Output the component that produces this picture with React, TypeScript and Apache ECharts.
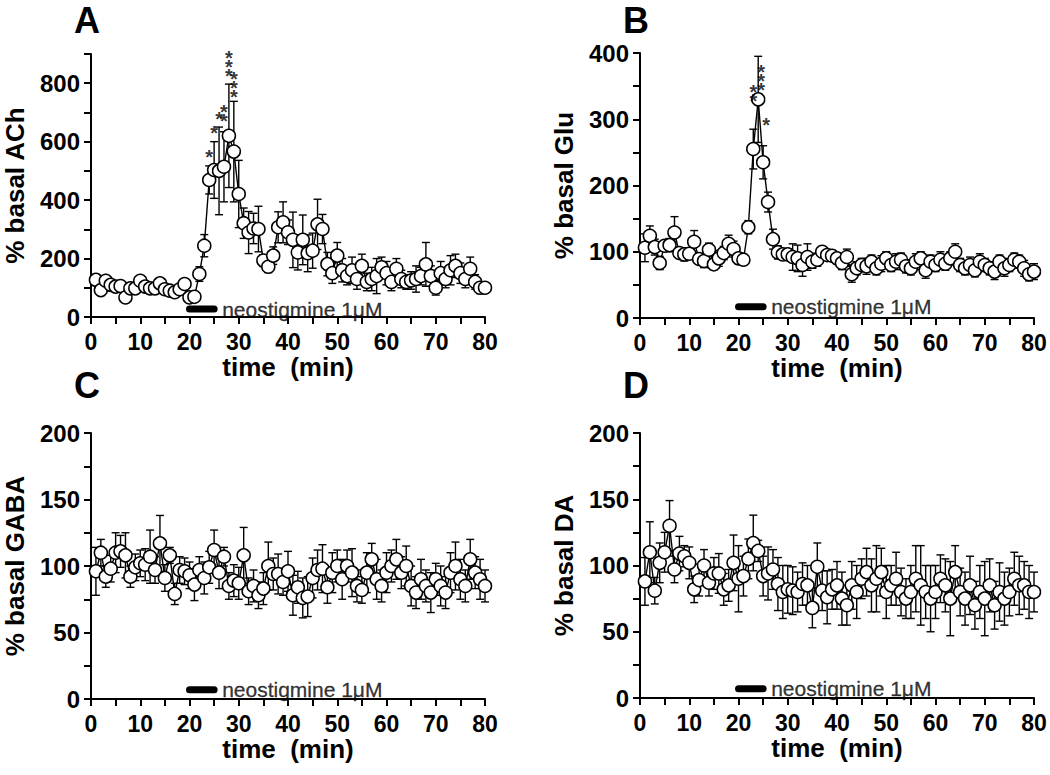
import React, { useEffect, useRef } from 'react';
import * as echarts from 'echarts';

const FONT = 'Liberation Sans, Arial, Helvetica, sans-serif';

// sampling times (min)
const times = [
  1, 2, 3, 4, 5, 6, 7, 8, 9, 10, 11, 12, 13, 14, 15, 16, 17, 18, 19, 20,
  21, 22, 23, 24, 25, 26, 27, 28, 29, 30, 31, 32, 33, 34, 35, 36, 37, 38, 39, 40,
  41, 42, 43, 44, 45, 46, 47, 48, 49, 50, 51, 52, 53, 54, 55, 56, 57, 58, 59, 60,
  61, 62, 63, 64, 65, 66, 67, 68, 69, 70, 71, 72, 73, 74, 75, 76, 77, 78, 79, 80,
];

// Panel A: % basal ACh
const achMean = [
  127, 92, 124, 110, 104, 106, 67, 98, 98, 124, 104, 98, 98, 115, 95, 90, 85, 95, 113, 67,
  69, 147, 244, 469, 503, 500, 514, 620, 566, 421, 321, 289, 303, 301, 193, 172, 210, 307, 324, 290,
  264, 221, 264, 218, 227, 317, 301, 181, 150, 210, 160, 140, 160, 130, 175, 120, 130, 140, 170, 150,
  120, 165, 130, 120, 125, 130, 140, 180, 140, 100, 150, 130, 160, 175, 150, 130, 165, 120, 100, 100,
];
const achSem = [
  10, 12, 8, 10, 12, 10, 12, 10, 10, 15, 10, 8, 10, 12, 10, 15, 10, 10, 15, 10,
  15, 25, 38, 48, 97, 150, 120, 177, 172, 115, 52, 72, 52, 78, 20, 20, 30, 53, 70, 42,
  95, 60, 85, 63, 60, 86, 50, 40, 35, 45, 40, 30, 45, 35, 40, 30, 40, 60, 35, 40,
  30, 35, 30, 25, 30, 45, 30, 75, 35, 25, 40, 30, 50, 40, 35, 30, 40, 25, 20, 15,
];

// Panel B: % basal Glu
const gluMean = [
  106, 124, 107, 83, 109, 110, 129, 98, 96, 97, 115, 89, 86, 103, 81, 90, 98, 112, 104, 90,
  88, 137, 255, 330, 235, 175, 119, 99, 96, 96, 92, 90, 80, 92, 85, 88, 100, 95, 94, 90,
  83, 92, 66, 75, 80, 78, 85, 75, 82, 90, 80, 85, 88, 78, 75, 85, 90, 72, 85, 80,
  88, 82, 90, 100, 80, 75, 80, 72, 85, 80, 75, 70, 85, 75, 80, 88, 85, 75, 66, 70,
];
const gluSem = [
  21, 15, 12, 10, 8, 10, 24, 8, 10, 8, 17, 8, 10, 10, 8, 12, 10, 13, 12, 8,
  8, 10, 30, 65, 25, 15, 15, 10, 8, 8, 20, 20, 17, 20, 10, 10, 8, 8, 8, 8,
  10, 12, 12, 10, 10, 12, 10, 10, 12, 10, 10, 12, 10, 10, 10, 12, 10, 12, 10, 10,
  12, 10, 10, 12, 10, 10, 12, 10, 12, 10, 10, 12, 10, 12, 10, 10, 10, 12, 10, 12,
];

// Panel C: % basal GABA
const gabaMean = [
  96, 110, 92, 98, 110, 111, 108, 92, 99, 102, 101, 107, 97, 117, 91, 108, 79, 97, 96, 93,
  86, 97, 91, 99, 112, 95, 107, 85, 89, 87, 108, 81, 85, 78, 83, 100, 94, 94, 88, 96,
  78, 84, 76, 77, 91, 97, 98, 84, 95, 100, 90, 100, 95, 85, 82, 95, 105, 90, 85, 95,
  100, 105, 95, 100, 85, 80, 90, 85, 80, 90, 85, 80, 95, 100, 90, 85, 105, 95, 90, 85,
];
const gabaSem = [
  18, 10, 8, 10, 15, 12, 17, 8, 10, 10, 12, 20, 10, 21, 10, 6, 8, 10, 10, 10,
  12, 10, 12, 12, 15, 12, 7, 10, 12, 12, 21, 10, 12, 10, 12, 18, 12, 15, 10, 15,
  15, 12, 15, 15, 15, 15, 18, 12, 15, 12, 15, 12, 18, 12, 10, 15, 12, 15, 12, 15,
  12, 15, 12, 15, 15, 12, 15, 12, 15, 12, 15, 12, 15, 18, 15, 12, 15, 12, 15, 12,
];

// Panel D: % basal DA
const daMean = [
  88, 110, 81, 102, 110, 130, 97, 109, 107, 102, 82, 89, 100, 87, 94, 94, 82, 85, 102, 90,
  92, 105, 117, 111, 92, 94, 97, 86, 80, 82, 81, 80, 86, 85, 68, 99, 81, 76, 82, 85,
  75, 70, 85, 80, 90, 95, 85, 90, 95, 80, 85, 90, 80, 75, 80, 90, 85, 80, 75, 80,
  90, 85, 75, 95, 80, 75, 85, 70, 80, 75, 85, 70, 80, 75, 80, 90, 85, 85, 80, 80,
];
const daSem = [
  18, 23, 10, 15, 15, 19, 10, 13, 8, 12, 10, 12, 12, 10, 12, 15, 12, 12, 21, 25,
  15, 15, 21, 8, 15, 20, 15, 20, 20, 18, 18, 15, 16, 15, 15, 18, 15, 20, 15, 18,
  20, 15, 18, 20, 15, 18, 20, 25, 18, 20, 15, 20, 18, 15, 20, 25, 30, 20, 25, 20,
  18, 20, 28, 20, 18, 20, 22, 18, 20, 28, 20, 18, 22, 20, 18, 20, 22, 18, 20, 15,
];

// significance marks: [time, value position, number of stars]
const achStars = [[24, 548, 1], [25, 630, 1], [26, 679, 1], [27, 687, 2], [28, 856, 3], [29, 785, 3]];
const gluStars = [[23, 334, 2], [24.6, 357, 3], [25.6, 291, 1]];

// neostigmine application window
const drugStart = 20;
const drugEnd = 25;
const drugLabel = 'neostigmine 1\u03bcM';

const panels = [
  { letter: 'A', yName: '% basal ACh', mean: achMean, sem: achSem, yMax: 900, tick: 100, label: 200, barY: 27, stars: achStars,
    grid: { left: 91, top: 54, width: 394, height: 263 }, lx: 87, ly: 20 },
  { letter: 'B', yName: '% basal Glu', mean: gluMean, sem: gluSem, yMax: 400, tick: 50, label: 100, barY: 17, stars: gluStars,
    grid: { left: 640, top: 53, width: 394, height: 265 }, lx: 636, ly: 20 },
  { letter: 'C', yName: '% basal GABA', mean: gabaMean, sem: gabaSem, yMax: 200, tick: 25, label: 50, barY: 7, stars: [],
    grid: { left: 91, top: 433, width: 394, height: 266 }, lx: 87, ly: 385 },
  { letter: 'D', yName: '% basal DA', mean: daMean, sem: daSem, yMax: 200, tick: 25, label: 50, barY: 7, stars: [],
    grid: { left: 640, top: 433, width: 394, height: 265 }, lx: 636, ly: 385 },
];

export default function App() {
  const ref = useRef<HTMLDivElement>(null);
  useEffect(() => {
    if (!ref.current) return;
    const chart = echarts.init(ref.current, undefined, { renderer: 'svg' });
    const grids: any[] = [];
    const xAxes: any[] = [];
    const yAxes: any[] = [];
    const series: any[] = [];
    const graphics: any[] = [];
    const axisLine = { show: true, lineStyle: { color: '#000', width: 2 } };
    const axisTick = { show: true, length: 7, lineStyle: { color: '#000', width: 2 } };
    const labelStyle = { color: '#000', fontSize: 23, fontWeight: 'bold', fontFamily: FONT };

    panels.forEach((p, i) => {
      grids.push({ ...p.grid, containLabel: false });
      xAxes.push({
        gridIndex: i, type: 'value', min: 0, max: 80, interval: 5,
        axisLine, axisTick, splitLine: { show: false },
        axisLabel: { ...labelStyle, margin: 13, formatter: (v: number) => (v % 10 === 0 ? String(v) : '') },
        name: 'time  (min)', nameLocation: 'middle', nameGap: 37,
        nameTextStyle: { color: '#000', fontSize: 26, fontWeight: 'bold', fontFamily: FONT },
      });
      yAxes.push({
        gridIndex: i, type: 'value', min: 0, max: p.yMax, interval: p.tick,
        axisLine, axisTick, splitLine: { show: false },
        axisLabel: { ...labelStyle, fontSize: 24, margin: 11, formatter: (v: number) => (v % p.label === 0 ? String(v) : '') },
        name: p.yName, nameLocation: 'middle', nameGap: 63, nameRotate: 90,
        nameTextStyle: { color: '#000', fontSize: 26, fontWeight: 'bold', fontFamily: FONT },
      });
      // error bars
      series.push({
        type: 'custom', xAxisIndex: i, yAxisIndex: i, silent: true, z: 2,
        encode: { x: 0, y: [1, 2] },
        data: times.map((t, k) => [t, p.mean[k] - p.sem[k], p.mean[k] + p.sem[k]]),
        renderItem: (params: any, api: any) => {
          const x = api.value(0);
          const lo = api.coord([x, api.value(1)]);
          const hi = api.coord([x, api.value(2)]);
          const w = 4;
          const st = { stroke: '#000', lineWidth: 1.4 };
          return {
            type: 'group',
            children: [
              { type: 'line', shape: { x1: lo[0], y1: lo[1], x2: hi[0], y2: hi[1] }, style: st },
              { type: 'line', shape: { x1: hi[0] - w, y1: hi[1], x2: hi[0] + w, y2: hi[1] }, style: st },
              { type: 'line', shape: { x1: lo[0] - w, y1: lo[1], x2: lo[0] + w, y2: lo[1] }, style: st },
            ],
          };
        },
      });
      // mean line with open circles
      series.push({
        type: 'line', xAxisIndex: i, yAxisIndex: i, z: 3,
        data: times.map((t, k) => [t, p.mean[k]]),
        symbol: 'circle', symbolSize: 13, showSymbol: true,
        itemStyle: { color: '#fff', borderColor: '#000', borderWidth: 1.5 },
        lineStyle: { color: '#000', width: 1.4 },
      });
      // drug bar
      series.push({
        type: 'line', xAxisIndex: i, yAxisIndex: i, z: 4, symbol: 'none',
        data: [[drugStart, p.barY], [drugEnd, p.barY]],
        lineStyle: { color: '#000', width: 7, cap: 'round' },
      });
      series.push({
        type: 'scatter', xAxisIndex: i, yAxisIndex: i, z: 4, symbolSize: 0,
        itemStyle: { color: '#000' },
        data: [[drugEnd, p.barY]],
        label: {
          show: true, position: 'right', distance: 8, formatter: drugLabel,
          color: '#000', fontSize: 21, fontFamily: FONT, textBorderWidth: 0.3, textBorderColor: '#000',
        },
      });
      if (p.stars.length) {
        series.push({
          type: 'scatter', xAxisIndex: i, yAxisIndex: i, z: 5, symbolSize: 0,
          itemStyle: { color: '#000' },
          data: p.stars,
          label: {
            show: true, position: 'inside', color: '#000', textBorderWidth: 0,
            fontSize: 20, fontWeight: 'bold', fontFamily: FONT, lineHeight: 9,
            formatter: (d: any) => Array(d.value[2]).fill('*').join('\n'),
          },
        });
      }
      graphics.push({
        type: 'text', x: p.lx, y: p.ly,
        style: { text: p.letter, fontSize: 36, fontWeight: 'bold', fontFamily: FONT, fill: '#000', align: 'center', verticalAlign: 'middle' },
      });
    });

    chart.setOption({
      animation: false,
      backgroundColor: '#fff',
      grid: grids,
      xAxis: xAxes,
      yAxis: yAxes,
      series,
      graphic: graphics,
    });
    return () => chart.dispose();
  }, []);
  return <div ref={ref} style={{ position: 'absolute', left: 0, top: 0, width: 1050, height: 775 }} />;
}
